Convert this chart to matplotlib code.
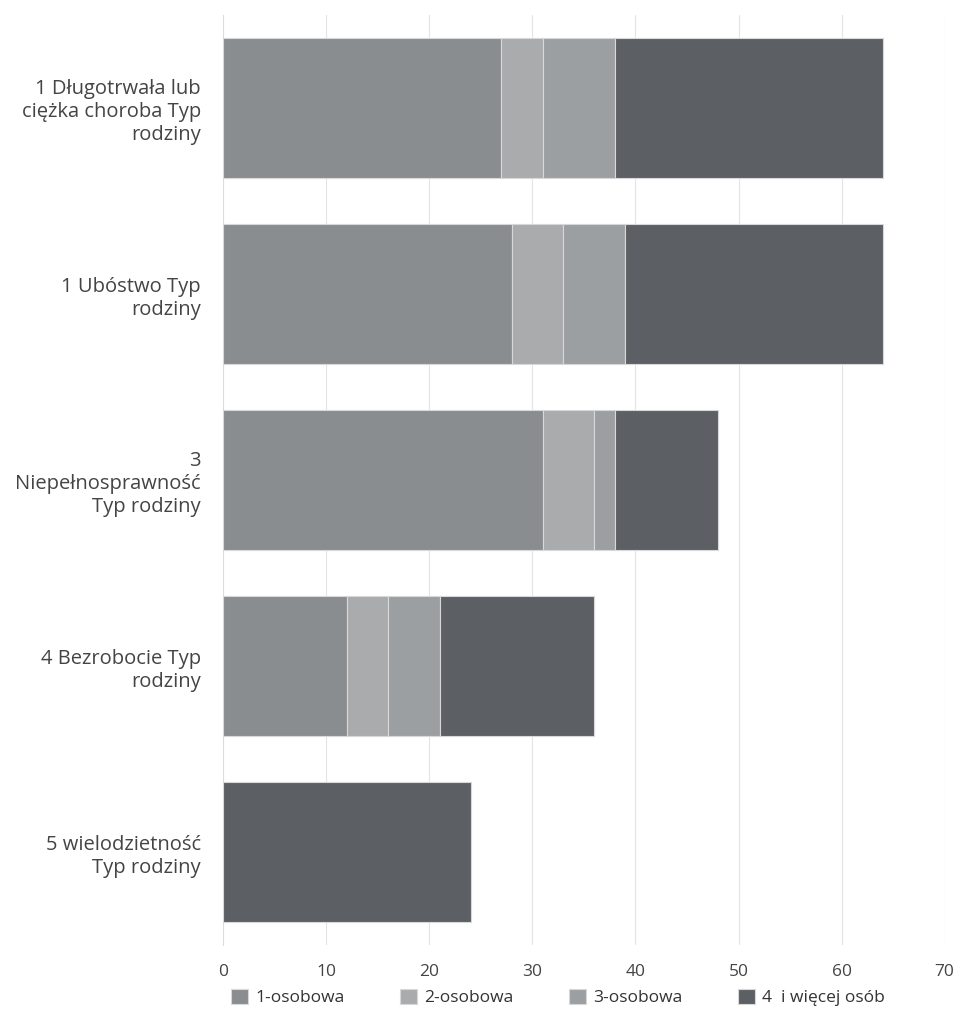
import matplotlib.pyplot as plt
import numpy as np

# Categories (top to bottom) and values
categories = [
    "1 Długotrwała lub\nciężka choroba Typ\nrodziny",
    "1 Ubóstwo Typ\nrodziny",
    "3\nNiepełnosprawność\nTyp rodziny",
    "4 Bezrobocie Typ\nrodziny",
    "5 wielodzietność\nTyp rodziny",
]
series_names = ["1-osobowa", "2-osobowa", "3-osobowa", "4  i więcej osób"]
osob_1 = [27, 28, 31, 12, 0]
osob_2 = [4, 5, 5, 4, 0]
osob_3 = [7, 6, 2, 5, 0]
osob_4_plus = [26, 25, 10, 15, 24]
x_ticks = [0, 10, 20, 30, 40, 50, 60, 70]

colors = ["#8a8d90", "#a9abad", "#9c9fa2", "#5c5f63"]

plt.rcParams['font.family'] = ['Open Sans', 'DejaVu Sans']

fig = plt.figure(figsize=(9.62, 10.22), dpi=100)
ax = fig.add_axes([0.232, 0.0753, 0.75, 0.910])

y = np.arange(len(categories))
left = np.zeros(len(categories))
for name, vals, col in zip(series_names, [osob_1, osob_2, osob_3, osob_4_plus], colors):
    ax.barh(y, vals, left=left, height=0.75, color=col, edgecolor="#d8d8d8",
            linewidth=0.8, label=name, zorder=3)
    left += np.array(vals)

ax.set_ylim(len(categories) - 0.5, -0.5)
ax.set_xlim(0, 70)
ax.set_xticks(x_ticks)
ax.set_yticks(y)
ax.set_yticklabels(categories, fontsize=14.5, color="#444444", linespacing=1.2)
ax.tick_params(axis="x", labelsize=12.5, labelcolor="#444444", length=0, pad=14)
ax.tick_params(axis="y", length=0, pad=16)

ax.grid(axis="x", color="#e4e4e4", linewidth=0.8, zorder=0)
for s in ["top", "right", "bottom"]:
    ax.spines[s].set_visible(False)
ax.spines["left"].set_color("#dddddd")

fig.legend(loc="lower center", bbox_to_anchor=(0.58, 0.0), ncol=4, frameon=False,
           fontsize=12.5, handlelength=1.0, handleheight=1.0, handletextpad=0.4,
           columnspacing=3.2, labelcolor="#333333")

fig.savefig("out.png", dpi=100)
